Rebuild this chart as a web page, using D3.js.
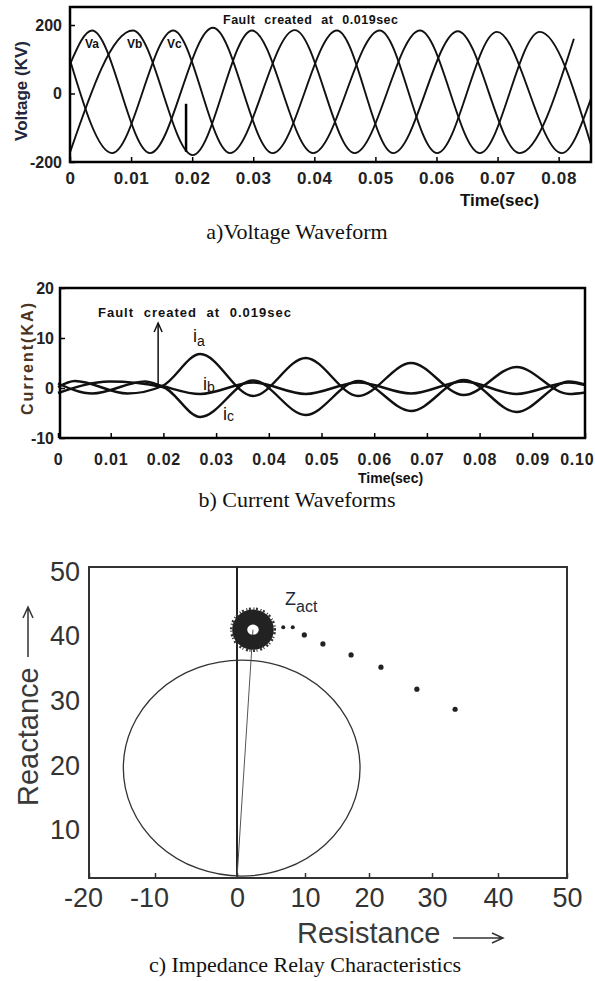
<!DOCTYPE html>
<html>
<head>
<meta charset="utf-8">
<script src="https://cdn.jsdelivr.net/npm/d3@7"></script>
<style>
  html, body { margin: 0; padding: 0; background: #fff; }
  svg { display: block; }
</style>
</head>
<body>
<div id="chart"></div>
<script>
// ---------- data ----------

// a) voltage waveform, extremes of each phase [time (s), kV]
const voltTimeTicks = [0, 0.01, 0.02, 0.03, 0.04, 0.05, 0.06, 0.07, 0.08];
const voltTicks = [-200, 0, 200];
const vaPoints = [[0, 85], [0.0036, 184], [0.0131, -174], [0.0234, 192], [0.0332, -174],
  [0.0437, 184], [0.0529, -174], [0.0635, 182], [0.0736, -174], [0.0825, 160]];
const vbPoints = [[0, -172], [0.0103, 184], [0.0201, -180], [0.0298, 184], [0.0398, -174],
  [0.0507, 184], [0.0601, -174], [0.0699, 180], [0.0805, -174], [0.0853, -15]];
const vcPoints = [[0, 98], [0.0069, -174], [0.0169, 184], [0.0262, -174], [0.0368, 185],
  [0.0466, -174], [0.0573, 184], [0.0671, -174], [0.0769, 180], [0.0853, -150]];
const voltLabels = ["Va", "Vb", "Vc"];
const faultTime = 0.019;
const faultVolt = [-30, -170];

// b) current waveforms [time (s), kA]
const currTimeTicks = [0, 0.01, 0.02, 0.03, 0.04, 0.05, 0.06, 0.07, 0.08, 0.09, 0.1];
const currTicks = [-10, 0, 10, 20];
const iaPoints = [[0, 0.2], [0.0032, 1.4], [0.0132, -1.1], [0.0198, 0.4], [0.027, 6.8],
  [0.037, -1.6], [0.047, 6.0], [0.057, -1.6], [0.067, 5.0], [0.077, -1.4], [0.087, 4.2],
  [0.097, -1.2], [0.1, -0.9]];
const ibPoints = [[0, 0.9], [0.0065, -1.1], [0.0165, 1.3], [0.0198, 0.4], [0.027, -1.2],
  [0.037, 1.1], [0.047, -1.2], [0.057, 1.1], [0.067, -1.1], [0.077, 1.3], [0.087, -1.2],
  [0.097, 1.1], [0.1, 0.6]];
const icPoints = [[0, -1.0], [0.0098, 1.3], [0.0198, 0.2], [0.027, -5.8], [0.037, 1.5],
  [0.047, -5.4], [0.057, 1.4], [0.067, -4.6], [0.077, 1.6], [0.087, -4.8], [0.097, 1.3],
  [0.1, 0.7]];
const faultArrowKA = [0.4, 13];

// c) impedance relay characteristics [R, X]
const resTicks = [-20, -10, 0, 10, 20, 30, 40, 50];
const reactTicks = [10, 20, 30, 40, 50];
const relayCenter = [1.9, 19.6];
const relayRadius = 16.7;
const zactCenter = [2.35, 41.0];
const zactRadius = 1.95;
const faultLine = [[0, 2.6], [2.35, 41.0]];
const trajectory = [[6.8, 41.4], [8.2, 41.4], [9.9, 40.2], [12.8, 38.8], [17.2, 37.1],
  [21.9, 35.2], [27.6, 31.8], [33.5, 28.7]];

// ---------- drawing ----------
const W = 595, H = 981;
const sans = "'Liberation Sans', Arial, Helvetica, sans-serif";
const serif = "'Liberation Serif', 'Times New Roman', serif";

const svg = d3.select("#chart").append("svg")
  .attr("width", W).attr("height", H)
  .attr("viewBox", [0, 0, W, H])
  .style("font-family", sans);

svg.append("rect").attr("width", W).attr("height", H).attr("fill", "#fff");

const fmtNum = d => d === 0 ? "0" : String(d);
const fmtTime = d => d === 0 ? "0" : d3.format(".2f")(d);

// ===== a) Voltage waveform =====
const xV = d3.scaleLinear().domain([0, 0.0853]).range([70, 591]);
const yV = d3.scaleLinear().domain([-200, 252.6]).range([162, 7]);
const gA = svg.append("g");

const lineV = d3.line().x(d => xV(d[0])).y(d => yV(d[1])).curve(d3.curveMonotoneX);
[vaPoints, vbPoints, vcPoints].forEach(pts => {
  gA.append("path").attr("d", lineV(pts))
    .attr("fill", "none").attr("stroke", "#111").attr("stroke-width", 1.9);
});

gA.append("line")
  .attr("x1", xV(faultTime)).attr("x2", xV(faultTime))
  .attr("y1", yV(faultVolt[0])).attr("y2", yV(faultVolt[1]))
  .attr("stroke", "#000").attr("stroke-width", 2.5);

gA.append("rect")
  .attr("x", xV.range()[0]).attr("y", yV.range()[1])
  .attr("width", xV.range()[1] - xV.range()[0])
  .attr("height", yV.range()[0] - yV.range()[1])
  .attr("fill", "none").attr("stroke", "#000").attr("stroke-width", 2.5);

const axA = gA.append("g").attr("transform", `translate(0,${yV.range()[0]})`)
  .call(d3.axisBottom(xV).tickValues(voltTimeTicks).tickSize(-5).tickFormat(fmtTime));
axA.select(".domain").remove();
axA.selectAll("line").attr("stroke", "#000").attr("stroke-width", 1.5);
axA.selectAll("text").attr("y", 22).attr("dy", null)
  .attr("font-family", sans).attr("font-size", 17).attr("font-weight", "bold")
  .attr("fill", "#222").attr("letter-spacing", 0.7);

const ayA = gA.append("g").attr("transform", `translate(${xV.range()[0]},0)`)
  .call(d3.axisLeft(yV).tickValues(voltTicks).tickSize(-5).tickFormat(fmtNum));
ayA.select(".domain").remove();
ayA.selectAll("line").attr("stroke", "#000").attr("stroke-width", 1.5);
ayA.selectAll("text").attr("x", -8)
  .attr("font-family", sans).attr("font-size", 16).attr("font-weight", "bold").attr("fill", "#222");

gA.append("text").text("Fault created at 0.019sec")
  .attr("x", 223).attr("y", 24)
  .attr("font-size", 12.5).attr("font-weight", "bold")
  .attr("letter-spacing", 0.5).attr("word-spacing", 5).attr("fill", "#111");

const vLabelX = [85, 127, 167];
voltLabels.forEach((t, i) => {
  gA.append("text").text(t).attr("x", vLabelX[i]).attr("y", 48)
    .attr("font-size", 12).attr("font-weight", "bold").attr("fill", "#111");
});

gA.append("text").text("Voltage (KV)")
  .attr("transform", "translate(27,91) rotate(-90)")
  .attr("text-anchor", "middle")
  .attr("font-size", 17).attr("font-weight", "bold").attr("fill", "#23263a");

gA.append("text").text("Time(sec)")
  .attr("x", 460).attr("y", 206)
  .attr("font-size", 17).attr("font-weight", "bold").attr("fill", "#111");

svg.append("text").text("a)Voltage Waveform")
  .attr("x", 297).attr("y", 239).attr("text-anchor", "middle")
  .attr("font-family", serif).attr("font-size", 22).attr("fill", "#111");

// ===== b) Current waveforms =====
const xI = d3.scaleLinear().domain([0, 0.1]).range([58, 585]);
const yI = d3.scaleLinear().domain([-10, 20]).range([438, 288]);
const gB = svg.append("g");

const lineI = d3.line().x(d => xI(d[0])).y(d => yI(d[1])).curve(d3.curveMonotoneX);
[iaPoints, ibPoints, icPoints].forEach(pts => {
  gB.append("path").attr("d", lineI(pts))
    .attr("fill", "none").attr("stroke", "#111").attr("stroke-width", 2.4);
});

gB.append("rect")
  .attr("x", 60).attr("y", yI(20))
  .attr("width", xI(0.1) - 60)
  .attr("height", yI(-10) - yI(20))
  .attr("fill", "none").attr("stroke", "#000").attr("stroke-width", 2.5);

const axB = gB.append("g").attr("transform", `translate(0,${yI(-10)})`)
  .call(d3.axisBottom(xI).tickValues(currTimeTicks).tickSize(-5).tickFormat(fmtTime));
axB.select(".domain").remove();
axB.selectAll("line").attr("stroke", "#000").attr("stroke-width", 1.5);
axB.selectAll("text").attr("y", 27).attr("dy", null)
  .attr("font-family", sans).attr("font-size", 16).attr("font-weight", "bold")
  .attr("fill", "#222").attr("letter-spacing", 0.8);
// last label sits against the right edge of the page
axB.selectAll("text").filter(d => d === 0.1)
  .attr("text-anchor", "end").attr("x", W - 1 - xI(0.1));

const ayB = gB.append("g").attr("transform", "translate(60,0)")
  .call(d3.axisLeft(yI).tickValues(currTicks).tickSize(-5).tickFormat(fmtNum));
ayB.select(".domain").remove();
ayB.selectAll("line").attr("stroke", "#000").attr("stroke-width", 1.5);
ayB.selectAll("text").attr("x", -6)
  .attr("font-family", sans).attr("font-size", 16).attr("font-weight", "bold").attr("fill", "#222");

gB.append("text").text("Fault created at 0.019sec")
  .attr("x", 98).attr("y", 317)
  .attr("font-size", 13).attr("font-weight", "bold")
  .attr("letter-spacing", 1).attr("word-spacing", 5).attr("fill", "#111");

const ax0 = xI(faultTime), ay0 = yI(faultArrowKA[0]), ay1 = yI(faultArrowKA[1]);
gB.append("line").attr("x1", ax0).attr("x2", ax0).attr("y1", ay0).attr("y2", ay1)
  .attr("stroke", "#111").attr("stroke-width", 1.5);
gB.append("path").attr("d", `M${ax0 - 4},${ay1 + 9}L${ax0},${ay1}L${ax0 + 4},${ay1 + 9}`)
  .attr("fill", "none").attr("stroke", "#111").attr("stroke-width", 1.5);

const iLabels = [["a", 193, 342, 4], ["b", 203, 390, 2], ["c", 223, 420, 1]];
iLabels.forEach(([s, x, y, dy]) => {
  const t = gB.append("text").attr("x", x).attr("y", y).attr("fill", "#111");
  t.append("tspan").text("i").attr("font-size", 18);
  t.append("tspan").text(s).attr("font-size", 14).attr("dy", dy);
});

gB.append("text").text("Current(KA)")
  .attr("transform", "translate(33,359) rotate(-90)")
  .attr("text-anchor", "middle")
  .attr("font-size", 16).attr("font-weight", "bold")
  .attr("textLength", 112).attr("lengthAdjust", "spacing")
  .attr("fill", "#4a3422");

gB.append("text").text("Time(sec)")
  .attr("x", 358).attr("y", 483)
  .attr("font-size", 14).attr("font-weight", "bold").attr("fill", "#111");

svg.append("text").text("b) Current Waveforms")
  .attr("x", 297).attr("y", 507).attr("text-anchor", "middle")
  .attr("font-family", serif).attr("font-size", 22).attr("fill", "#111");

// ===== c) Impedance relay characteristics =====
// the printed resistance axis is not evenly spaced, so follow its tick positions
const xR = d3.scaleLinear().domain(resTicks).range([89, 155, 237, 305, 369, 432, 498, 567]);
const yX = d3.scaleLinear().domain([2.6, 50.7]).range([878, 567]);
const gC = svg.append("g");

gC.append("rect")
  .attr("x", xR(-20)).attr("y", yX(50.7))
  .attr("width", xR(50) - xR(-20)).attr("height", yX(2.6) - yX(50.7))
  .attr("fill", "none").attr("stroke", "#333").attr("stroke-width", 2);

gC.append("line")
  .attr("x1", xR(0)).attr("x2", xR(0)).attr("y1", yX(2.6)).attr("y2", yX(50.7))
  .attr("stroke", "#222").attr("stroke-width", 2);

// mho circle
const cxL = xR(relayCenter[0] - relayRadius), cxR = xR(relayCenter[0] + relayRadius);
const cyT = yX(relayCenter[1] + relayRadius), cyB = yX(relayCenter[1] - relayRadius);
gC.append("ellipse")
  .attr("cx", (cxL + cxR) / 2).attr("cy", (cyT + cyB) / 2)
  .attr("rx", (cxR - cxL) / 2).attr("ry", (cyB - cyT) / 2)
  .attr("fill", "none").attr("stroke", "#333").attr("stroke-width", 1.3);

// line from origin to the operating impedance
gC.append("line")
  .attr("x1", xR(faultLine[0][0])).attr("y1", yX(faultLine[0][1]))
  .attr("x2", xR(faultLine[1][0])).attr("y2", yX(faultLine[1][1]))
  .attr("stroke", "#555").attr("stroke-width", 1);

// cluster of Zact samples
const zx = xR(zactCenter[0]), zy = yX(zactCenter[1]);
const zrx = xR(zactCenter[0] + zactRadius) - zx, zry = zy - yX(zactCenter[1] + zactRadius);
gC.append("ellipse").attr("cx", zx).attr("cy", zy).attr("rx", zrx).attr("ry", zry)
  .attr("fill", "none").attr("stroke", "#222").attr("stroke-width", 15);
gC.append("ellipse").attr("cx", zx).attr("cy", zy).attr("rx", zrx + 8.5).attr("ry", zry + 8.5)
  .attr("fill", "none").attr("stroke", "#333").attr("stroke-width", 2.5)
  .attr("stroke-dasharray", "1,1.6,2,2.6");

gC.selectAll("circle.traj").data(trajectory).join("circle")
  .attr("class", "traj")
  .attr("cx", d => xR(d[0])).attr("cy", d => yX(d[1]))
  .attr("r", (d, i) => i < 2 ? 2 : 2.6)
  .attr("fill", "#222");

const axC = gC.append("g").attr("transform", `translate(0,${yX(2.6)})`)
  .call(d3.axisBottom(xR).tickValues(resTicks).tickSize(-5).tickFormat(fmtNum));
axC.select(".domain").remove();
axC.selectAll("line").attr("stroke", "#333").attr("stroke-width", 1.5);
axC.selectAll("text").attr("y", 29).attr("dy", null)
  .attr("dx", d => d < 0 ? -6 : 0)
  .attr("font-family", sans).attr("font-size", 27).attr("fill", "#333");

const ayC = gC.append("g").attr("transform", `translate(${xR(-20)},0)`)
  .call(d3.axisLeft(yX).tickValues(reactTicks).tickSize(0).tickFormat(fmtNum));
ayC.select(".domain").remove();
ayC.selectAll("text").attr("x", -9)
  .attr("font-family", sans).attr("font-size", 27).attr("fill", "#333");

// Z_act label
const zl = gC.append("text").attr("x", 285).attr("y", 605).attr("fill", "#202838");
zl.append("tspan").text("Z").attr("font-size", 18);
zl.append("tspan").text("act").attr("font-size", 16).attr("dy", 7);

// axis titles with arrows
gC.append("text").text("Reactance")
  .attr("transform", "translate(38,806) rotate(-90)")
  .attr("font-size", 29).attr("fill", "#3a3a3a");
gC.append("path").attr("d", "M28,657V607M23,618L28,607L33,618")
  .attr("fill", "none").attr("stroke", "#333").attr("stroke-width", 1.5);

gC.append("text").text("Resistance")
  .attr("x", 297).attr("y", 943)
  .attr("font-size", 29).attr("fill", "#3a3a3a");
gC.append("path").attr("d", "M453,938H503M492,933L503,938L492,943")
  .attr("fill", "none").attr("stroke", "#333").attr("stroke-width", 1.5);

svg.append("text").text("c) Impedance Relay Characteristics")
  .attr("x", 305).attr("y", 972).attr("text-anchor", "middle")
  .attr("font-family", serif).attr("font-size", 22).attr("fill", "#111");
</script>
</body>
</html>
